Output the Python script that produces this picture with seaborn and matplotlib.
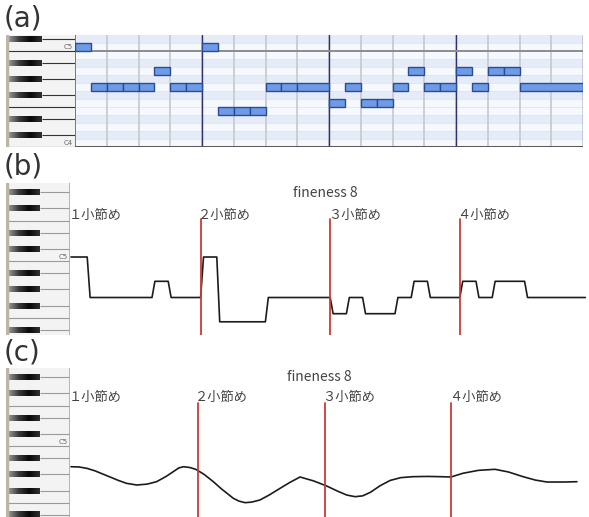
import numpy as np
import pandas as pd
import matplotlib
matplotlib.use("Agg")
import matplotlib.pyplot as plt
import seaborn as sns
from matplotlib.patches import Rectangle
from matplotlib.colors import LinearSegmentedColormap

W, H = 589, 517

# melody in panel (a): start (8th-note slots), length (slots), midi pitch
note_start = [0, 1, 2, 3, 4, 5, 6, 7, 8, 9, 10, 11, 12, 13, 14,
              16, 17, 18, 19, 20, 21, 22, 23, 24, 25, 26, 27, 28]
note_len = [1, 1, 1, 1, 1, 1, 1, 1, 1, 1, 1, 1, 1, 1, 2,
            1, 1, 1, 1, 1, 1, 1, 1, 1, 1, 1, 1, 4]
note_pitch = [72, 67, 67, 67, 67, 69, 67, 67, 72, 64, 64, 64, 67, 67, 67,
              65, 67, 65, 65, 67, 69, 67, 67, 69, 67, 69, 69, 67]

measure_slots = [0, 8, 16, 24]
measure_labels = ['１小節め', '２小節め', '３小節め', '４小節め']

# panel (c): smoothed pitch curve
smooth_slot = [0.0, 0.5, 1.0, 1.5, 2.0, 2.5, 3.0, 3.5, 4.15, 4.8, 5.4, 6.0, 6.5,
               6.8, 7.1, 7.5, 7.87, 8.4, 8.98, 9.5, 10.24, 10.6, 10.98, 11.4,
               11.92, 12.5, 13.19, 13.8, 14.45, 15.3, 16.13, 16.8, 17.4, 17.92,
               18.4, 18.9, 19.5, 20.13, 20.8, 21.58, 22.5, 23.28, 23.97, 24.73,
               25.7, 26.75, 27.6, 28.52, 29.3, 30.03, 31.17, 31.92]
smooth_pitch = [68.95, 68.92, 68.75, 68.45, 68.05, 67.65, 67.25, 66.9, 66.69, 66.8,
                67.1, 67.75, 68.4, 68.8, 68.95, 68.85, 68.63, 68.0, 67.1, 66.2,
                65.05, 64.7, 64.51, 64.58, 64.84, 65.45, 66.28, 67.0, 67.68, 67.2,
                66.57, 65.95, 65.45, 65.25, 65.35, 65.8, 66.6, 67.25, 67.6, 67.72,
                67.75, 67.72, 67.68, 68.14, 68.5, 68.63, 68.3, 67.72, 67.3, 67.06,
                67.06, 67.1]

sns.set_style('white')
plt.rcParams['font.family'] = ['Noto Sans CJK JP', 'DejaVu Sans']

fig = plt.figure(figsize=(W / 100, H / 100), dpi=100)


def px_axes(x0, y0, x1, y1):
    return fig.add_axes([x0 / W, 1 - y1 / H, (x1 - x0) / W, (y1 - y0) / H])


BLACK = (1, 3, 6, 8, 10)
key_cmap = LinearSegmentedColormap.from_list('key', ['#9a9a9a', '#3a3a3a', '#080808', '#303030'])
grad = np.linspace(0, 1, 64).reshape(1, -1)


def draw_keyboard(ax, lo, hi, black_w, line_col, names):
    ax.add_patch(Rectangle((0, lo), 1, hi - lo, color='#f3f3f3', zorder=0))
    ax.add_patch(Rectangle((0, lo), 0.035, hi - lo, color='#bcb5a8', zorder=4))
    for p in range(int(np.floor(lo)) - 1, int(np.ceil(hi)) + 1):
        if p % 12 in BLACK:
            ax.hlines(p, black_w, 1, color=line_col, lw=0.8, zorder=1)
            ax.imshow(grad, extent=(0.035, black_w, p - 0.36, p + 0.36),
                      cmap=key_cmap, aspect='auto', zorder=3)
        if p % 12 in (4, 11):
            ax.hlines(p + 0.5, 0.035, 1, color=line_col, lw=0.8, zorder=1)
    for p, name in names:
        ax.text(0.97, p - 0.35, name, fontsize=5, color='#666666', ha='right',
                va='bottom', family='DejaVu Sans')
    ax.set_xlim(0, 1)
    ax.set_ylim(lo, hi)
    ax.axis('off')


# ---------------- panel (a) ----------------
lo_a, hi_a = 59.5, 73.5
kb = px_axes(6, 35, 75, 147)
draw_keyboard(kb, lo_a, hi_a, 0.52, '#333333', [(72, 'C5'), (60, 'C4')])

roll = px_axes(75, 35, 583, 147)
for p in range(60, 74):
    roll.axhspan(p - 0.5, p + 0.5, color='#e6ecf7' if p % 12 in BLACK else '#f5f8fc', lw=0, zorder=0)
    roll.axhline(p - 0.5, color='#dfe5ef', lw=0.6, zorder=0.5)
for s in range(2, 32, 2):
    roll.axvline(s, color='#c9ced8', lw=1.4, zorder=1)
for s in [8, 16, 24, 32]:
    roll.axvline(s, color='#2e3170', lw=1.0, zorder=1.5)
roll.axvline(0, color='#a04848', lw=1.2, zorder=1.5)
roll.axhline(71.5, color='#8c8c8c', lw=1.4, zorder=1.5)
roll.axhline(59.5, color='#555555', lw=1.4, zorder=1.5)
notes = pd.DataFrame({'start': note_start, 'len': note_len, 'pitch': note_pitch})
roll.barh(notes['pitch'], notes['len'], left=notes['start'], height=0.92,
          color='#6f9be6', edgecolor='#2a4a9c', lw=1.0, zorder=2)
roll.set_xlim(0, 32)
roll.set_ylim(lo_a, hi_a)
roll.axis('off')

# ---------------- panel (b) ----------------
lo_b, hi_b = 62.37, 81.14
kb_b = px_axes(6, 183, 70, 335)
draw_keyboard(kb_b, lo_b, hi_b, 0.53, '#9a9a9a', [(72, 'C5')])
kb_b.axvline(1, color='#c89c9c', lw=1.2)

slot_pitch = []
for s, l, p in zip(note_start, note_len, note_pitch):
    slot_pitch += [p] * l
xs, ys = [0.0], [slot_pitch[0]]
for i in range(1, len(slot_pitch)):
    if slot_pitch[i] != slot_pitch[i - 1]:
        xs += [i, i + 0.18]
        ys += [slot_pitch[i - 1], slot_pitch[i]]
xs.append(31.75)
ys.append(slot_pitch[-1])

axb = px_axes(70, 183, 589, 335)
sns.lineplot(x=xs, y=ys, sort=False, estimator=None, color='#1c1c1c', lw=1.2, ax=axb)
axb.set_xlim(-1 / 16.2, 518 / 16.2)
axb.set_ylim(lo_b, hi_b)
for s, lab in zip(measure_slots, measure_labels):
    if s > 0:
        axb.axvline(s, ymin=0, ymax=0.763, color='#cc3a35', lw=1.3)
    axb.text(s - 0.15, 0.789, lab, transform=axb.get_xaxis_transform(),
             fontsize=9.5, color='#444444', va='center', ha='left')
axb.axis('off')
fig.text(293 / W, 1 - 193 / H, 'fineness 8', fontsize=10, color='#444444', va='center')

# ---------------- panel (c) ----------------
lo_c, hi_c = 62.74, 81.14
kb_c = px_axes(6, 368, 70, 517)
draw_keyboard(kb_c, lo_c, hi_c, 0.53, '#9a9a9a', [(72, 'C5')])
kb_c.axvline(1, color='#c89c9c', lw=1.2)

axc = px_axes(70, 368, 589, 517)
sns.lineplot(x=smooth_slot, y=smooth_pitch, sort=False, estimator=None,
             color='#1c1c1c', lw=1.2, ax=axc)
axc.set_xlim(-1 / 15.85, 518 / 15.85)
axc.set_ylim(lo_c, hi_c)
for s, lab in zip(measure_slots, measure_labels):
    if s > 0:
        axc.axvline(s, ymin=0, ymax=0.765, color='#cc3a35', lw=1.3)
    axc.text(s - 0.15, 0.799, lab, transform=axc.get_xaxis_transform(),
             fontsize=9.5, color='#444444', va='center', ha='left')
axc.axis('off')
fig.text(287 / W, 1 - 377 / H, 'fineness 8', fontsize=10, color='#444444', va='center')

# panel letters
for lab, yc in [('(a)', 18), ('(b)', 166), ('(c)', 352)]:
    fig.text(4 / W, 1 - yc / H, lab, fontsize=20, color='#333333', va='center',
             family='DejaVu Sans')

fig.savefig('out.png', dpi=100)
